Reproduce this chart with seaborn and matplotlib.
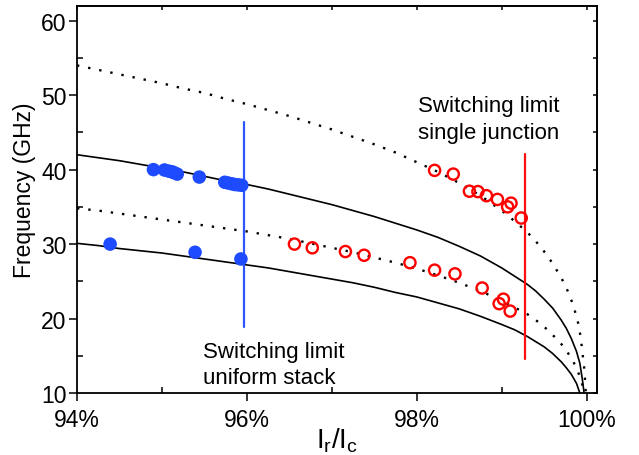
import numpy as np
import pandas as pd
import matplotlib
matplotlib.use('Agg')
import matplotlib.pyplot as plt
import seaborn as sns

# model curves (Ir/Ic in %, frequency in GHz)
solid_hi_x = [94, 94.25, 94.5, 94.75, 95, 95.25, 95.5, 95.75, 96, 96.25, 96.5, 96.75, 97, 97.25, 97.5, 97.75,
              98, 98.25, 98.5, 98.75, 99, 99.15, 99.3, 99.4, 99.5, 99.6, 99.7, 99.76, 99.82, 99.88, 99.92, 99.95, 99.97]
solid_hi_y = [42.0, 41.6, 41.2, 40.7, 40.2, 39.7, 39.1, 38.5, 38.0, 37.4, 36.7, 36.0, 35.3, 34.5, 33.7, 32.8,
              31.9, 30.9, 29.7, 28.4, 26.8, 25.7, 24.6, 23.7, 22.6, 21.4, 19.8, 18.7, 17.3, 15.6, 14.0, 11.8, 10.0]
solid_lo_x = [94, 94.25, 94.5, 94.75, 95, 95.25, 95.5, 95.75, 96, 96.25, 96.5, 96.75, 97, 97.25, 97.5, 97.75,
              98, 98.25, 98.5, 98.75, 99, 99.15, 99.3, 99.4, 99.5, 99.6, 99.7, 99.76, 99.82, 99.88, 99.92]
solid_lo_y = [30.1, 29.8, 29.4, 29.1, 28.8, 28.4, 28.0, 27.6, 27.2, 26.8, 26.3, 25.8, 25.3, 24.8, 24.2, 23.5,
              22.9, 22.1, 21.3, 20.3, 19.2, 18.5, 17.6, 16.9, 16.2, 15.3, 14.2, 13.4, 12.5, 11.3, 10.0]
dot_hi_x = [94, 94.25, 94.5, 94.75, 95, 95.25, 95.5, 95.75, 96, 96.25, 96.5, 96.75, 97, 97.25, 97.5, 97.75,
            98, 98.25, 98.5, 98.75, 99, 99.15, 99.3, 99.4, 99.5, 99.6, 99.7, 99.75, 99.8, 99.85, 99.9, 99.93,
            99.95, 99.97, 99.98, 99.99]
dot_hi_y = [54.0, 53.4, 52.8, 52.2, 51.6, 50.9, 50.3, 49.5, 48.8, 48.0, 47.2, 46.3, 45.4, 44.4, 43.4, 42.3,
            41.0, 39.7, 38.2, 36.5, 34.5, 33.1, 31.6, 30.4, 29.0, 27.4, 25.5, 24.4, 23.1, 21.5, 19.4, 17.5,
            15.5, 13.5, 12.0, 10.0]
dot_lo_x = [94, 94.25, 94.5, 94.75, 95, 95.25, 95.5, 95.75, 96, 96.25, 96.5, 96.75, 97, 97.25, 97.5, 97.75,
            98, 98.25, 98.5, 98.75, 99, 99.15, 99.3, 99.4, 99.5, 99.6, 99.7, 99.76, 99.82, 99.88, 99.92, 99.96, 99.97]
dot_lo_y = [34.8, 34.5, 34.1, 33.7, 33.3, 32.9, 32.5, 32.1, 31.7, 31.2, 30.7, 30.1, 29.5, 28.9, 28.2, 27.5,
            26.7, 25.8, 24.8, 23.7, 22.4, 21.5, 20.6, 19.8, 18.9, 17.8, 16.6, 15.7, 14.7, 13.4, 12.2, 10.7, 10.0]

# measured points - uniform stack (blue, filled)
blue_x = [94.90, 95.03, 95.08, 95.12, 95.14, 95.18, 95.44, 95.74, 95.78, 95.82, 95.86, 95.90, 95.94,
          94.39, 95.39, 95.93]
blue_y = [40.0, 39.95, 39.8, 39.7, 39.6, 39.4, 39.0, 38.3, 38.2, 38.1, 38.0, 37.95, 37.9,
          30.0, 28.9, 28.0]

# measured points - single junction (red, open)
red_x = [98.21, 98.43, 98.62, 98.72, 98.82, 98.95, 99.11, 99.07, 99.23,
         96.56, 96.77, 97.16, 97.38, 97.92, 98.21, 98.45, 98.77, 99.02, 98.97, 99.10]
red_y = [39.9, 39.4, 37.1, 37.05, 36.5, 36.0, 35.5, 35.0, 33.5,
         30.0, 29.5, 29.0, 28.5, 27.5, 26.5, 26.0, 24.1, 22.6, 22.0, 21.0]

# switching limits
stack_limit_x = 95.97
stack_limit_y = [18.8, 46.4]
junction_limit_x = 99.27
junction_limit_y = [14.6, 42.1]

xticks = [94, 96, 98, 100]
xtick_labels = ['94%', '96%', '98%', '100%']
yticks = [10, 20, 30, 40, 50, 60]

sns.set_style('ticks')
plt.rcParams['font.family'] = ['Liberation Sans', 'DejaVu Sans']
plt.rcParams['mathtext.default'] = 'regular'
plt.rcParams['text.color'] = 'black'
plt.rcParams['axes.labelcolor'] = 'black'
plt.rcParams['xtick.color'] = 'black'
plt.rcParams['ytick.color'] = 'black'

fig = plt.figure(figsize=(6.39, 4.56), dpi=100)
ax = fig.add_axes([0.1205, 0.136, 0.8135, 0.849])

dotted = (0, (1, 3.8))
sns.lineplot(x=solid_hi_x, y=solid_hi_y, color='black', lw=1.2, ax=ax, sort=False, estimator=None)
sns.lineplot(x=solid_lo_x, y=solid_lo_y, color='black', lw=1.2, ax=ax, sort=False, estimator=None)
sns.lineplot(x=dot_hi_x, y=dot_hi_y, color='black', lw=1.7, linestyle=dotted, ax=ax, sort=False, estimator=None)
sns.lineplot(x=dot_lo_x, y=dot_lo_y, color='black', lw=1.7, linestyle=dotted, ax=ax, sort=False, estimator=None)

ax.plot([stack_limit_x, stack_limit_x], stack_limit_y, color='#2f55ff', lw=1.6)
ax.plot([junction_limit_x, junction_limit_x], junction_limit_y, color='#ff1010', lw=1.6)

sns.scatterplot(x=blue_x, y=blue_y, color='#1e4bff', s=95, edgecolor='none', ax=ax, zorder=3)
sns.scatterplot(x=red_x, y=red_y, facecolors='none', edgecolors='#ff0000', linewidth=1.7, s=65, ax=ax, zorder=3)

ax.text(98.01, 50.0, 'Switching limit\nsingle junction', fontsize=16, va='top', ha='left',
        linespacing=1.35, color='black')
ax.text(95.48, 17.0, 'Switching limit\nuniform stack', fontsize=16, va='top', ha='left',
        linespacing=1.35, color='black')

ax.set_xlim(94, 100.12)
ax.set_ylim(10, 62)
ax.set_xticks(xticks)
ax.set_xticklabels(xtick_labels)
ax.set_yticks(yticks)
ax.set_xticks([95, 97, 99], minor=True)
ax.set_yticks([15, 25, 35, 45, 55], minor=True)
ax.tick_params(which='major', direction='out', length=5.5, width=1.1, labelsize=16.5,
               colors='black', labelcolor='black', pad=2)
ax.tick_params(axis='x', which='major', pad=5)
ax.tick_params(which='minor', direction='in', length=4, width=1.1, colors='black')

# ticks pointing inward on top and right
top = ax.secondary_xaxis('top')
top.set_xticks([94, 95, 96, 97, 98, 99, 100])
top.tick_params(direction='in', length=3, width=1.1, labeltop=False, colors='black')
right = ax.secondary_yaxis('right')
right.set_yticks([10, 15, 20, 25, 30, 35, 40, 45, 50, 55, 60])
right.tick_params(direction='in', length=3, width=1.1, labelright=False, colors='black')

for sp in ax.spines.values():
    sp.set_linewidth(1.3)
    sp.set_color('black')
    sp.set_visible(True)
top.spines['top'].set_linewidth(1.3)
right.spines['right'].set_linewidth(1.3)

ax.set_xlabel('I$_r$/I$_c$', fontsize=20, labelpad=-4, color='black')
ax.set_ylabel('Frequency (GHz)', fontsize=16.5, color='black')
ax.yaxis.set_label_coords(-0.078, 0.527)

fig.savefig('out.png', dpi=100)
